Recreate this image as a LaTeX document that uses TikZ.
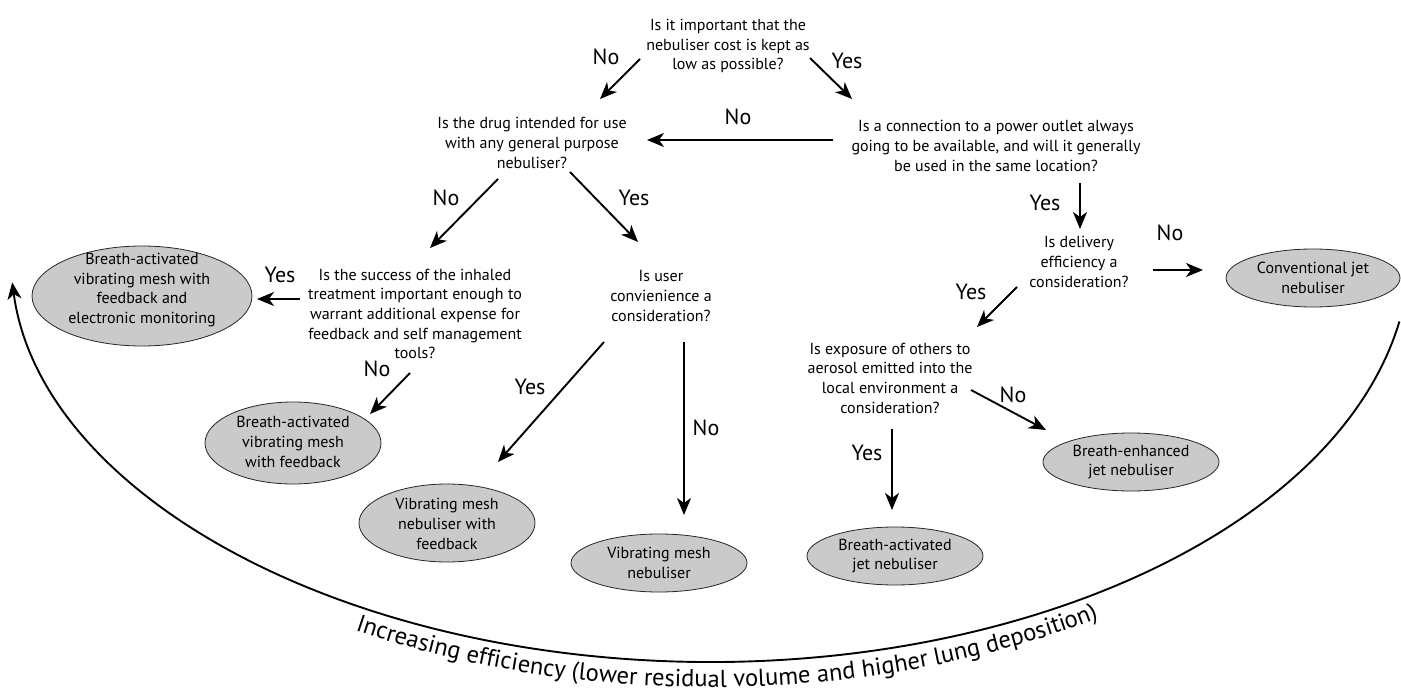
\documentclass[tikz,border=0pt]{standalone}
\usepackage{fontspec}
\setmainfont{PT Sans}
\usetikzlibrary{arrows.meta,shapes.geometric,decorations.text}
\newcommand\qf{\fontsize{16}{19.7}\selectfont}
\newcommand\lf{\fontsize{22}{26}\selectfont}
\newcommand\arcfont{\fontsize{24.5}{28}\selectfont}
\definecolor{ellfill}{RGB}{202,202,202}
\begin{document}
\begin{tikzpicture}[x=1pt,y=-1pt,
  q/.style={align=center,font=\qf,inner sep=0pt},
  lab/.style={font=\lf,inner sep=0pt},
  ell/.style={ellipse,draw=black!85,line width=0.8pt,fill=ellfill,inner sep=0pt},
  arr/.style={line width=1.9pt,-{Stealth[length=17pt,width=14pt,inset=5pt]}}]
\useasboundingbox (0,0) rectangle (1401,693);

% questions
\node[q] (q1) at (728,46) {Is it important that the\\nebuliser cost is kept as\\low as possible?};
\node[q] (q2) at (532,143) {Is the drug intended for use\\with any general purpose\\nebuliser?};
\node[q] (q3) at (996,146) {Is a connection to a power outlet always\\going to be available, and will it generally\\be used in the same location?};
\node[q] (q4) at (1079,262) {Is delivery\\efficiency a\\consideration?};
\node[q] (q5) at (890,378) {Is exposure of others to\\aerosol emitted into the\\local environment a\\consideration?};
\node[q] (q6) at (415,314) {Is the success of the inhaled\\treatment important enough to\\warrant additional expense for\\feedback and self management\\tools?};
\node[q] (q7) at (661,296) {Is user\\convienience a\\consideration?};

% outcomes
\node[ell,minimum width=220,minimum height=100] (e1) at (142,296) {};
\node[q] (e1t) at (142,290) {Breath-activated\\vibrating mesh with\\feedback and\\electronic monitoring};
\node[ell,minimum width=176,minimum height=82] (e2) at (293,443) {};
\node[q] (e2t) at (293,442) {Breath-activated\\vibrating mesh\\with feedback};
\node[ell,minimum width=176,minimum height=78] (e3) at (447,523) {};
\node[q] (e3t) at (447,524) {Vibrating mesh\\nebuliser with\\feedback};
\node[ell,minimum width=176,minimum height=58] (e4) at (659,563) {};
\node[q] (e4t) at (659,563) {Vibrating mesh\\nebuliser};
\node[ell,minimum width=176,minimum height=58] (e5) at (895,556) {};
\node[q] (e5t) at (895,556) {Breath-activated\\jet nebuliser};
\node[ell,minimum width=176,minimum height=58] (e6) at (1131,462) {};
\node[q] (e6t) at (1131,462) {Breath-enhanced\\jet nebuliser};
\node[ell,minimum width=174,minimum height=58] (e7) at (1313,278) {};
\node[q] (e7t) at (1313,278) {Conventional jet\\nebuliser};

% arrow end points
\coordinate (a1s) at (640,59);   \coordinate (a1e) at (600,99);
\coordinate (a2s) at (810,58);   \coordinate (a2e) at (852,99);
\coordinate (a3s) at (833,140);  \coordinate (a3e) at (647,140);
\coordinate (a4s) at (498,179);  \coordinate (a4e) at (430,248);
\coordinate (a5s) at (570,172);  \coordinate (a5e) at (638,242);
\coordinate (a6s) at (1080,183); \coordinate (a6e) at (1080,229);
\coordinate (a7s) at (1153,270); \coordinate (a7e) at (1203,270);
\coordinate (a8s) at (1017,287); \coordinate (a8e) at (977,327);
\coordinate (a9s) at (971,390);  \coordinate (a9e) at (1046,430);
\coordinate (a10s) at (892,429); \coordinate (a10e) at (892,510);
\coordinate (a11s) at (300,299); \coordinate (a11e) at (257,299);
\coordinate (a12s) at (410,373); \coordinate (a12e) at (370,414);
\coordinate (a13s) at (604,342); \coordinate (a13e) at (498,462);
\coordinate (a14s) at (684,342); \coordinate (a14e) at (684,515);

\draw[arr] (a1s) -- (a1e);
\draw[arr] (a2s) -- (a2e);
\draw[arr] (a3s) -- (a3e);
\draw[arr] (a4s) -- (a4e);
\draw[arr] (a5s) -- (a5e);
\draw[arr] (a6s) -- (a6e);
\draw[arr] (a7s) -- (a7e);
\draw[arr] (a8s) -- (a8e);
\draw[arr] (a9s) -- (a9e);
\draw[arr] (a10s) -- (a10e);
\draw[arr] (a11s) -- (a11e);
\draw[arr] (a12s) -- (a12e);
\draw[arr] (a13s) -- (a13e);
\draw[arr] (a14s) -- (a14e);

% labels
\node[lab] (l1) at (606,57) {No};
\node[lab] (l2) at (847,61) {Yes};
\node[lab] (l3) at (738,117) {No};
\node[lab] (l4) at (446,198) {No};
\node[lab] (l5) at (634,198) {Yes};
\node[lab] (l6) at (1045,203) {Yes};
\node[lab] (l7) at (1170,233) {No};
\node[lab] (l8) at (971,292) {Yes};
\node[lab] (l9) at (1013,395) {No};
\node[lab] (l10) at (867,453) {Yes};
\node[lab] (l11) at (280,275) {Yes};
\node[lab] (l12) at (377,369) {No};
\node[lab] (l13) at (530,387) {Yes};
\node[lab] (l14) at (706,428) {No};

% efficiency arc
\coordinate (arcs) at (1399.4,321.5);
\draw[line width=1.9pt,-{Stealth[length=17pt,width=14pt,inset=5pt]}] (arcs) arc[start angle=10,end angle=175.5,x radius=700,y radius=412];
\coordinate (txs) at (86.4,468.5);
\path[decorate,decoration={text along path,text align=center,
  text={|\arcfont|Increasing efficiency (lower residual volume and higher lung deposition)}}]
  (txs) arc[start angle=150,end angle=26,x radius=720,y radius=437];
\end{tikzpicture}
\end{document}
